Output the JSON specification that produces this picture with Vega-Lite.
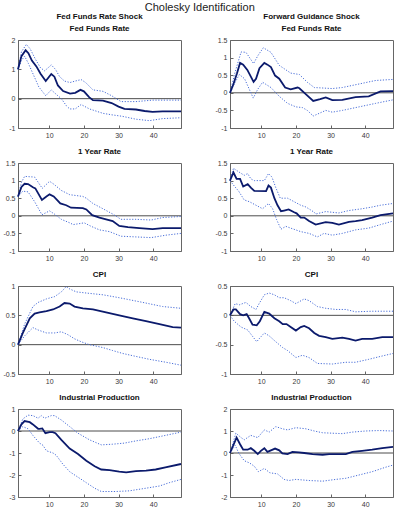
{
  "$schema": "https://vega.github.io/schema/vega-lite/v6.json",
  "background": "white",
  "padding": {"left": 2, "top": 1, "right": 6, "bottom": 2},
  "title": {"text": "Cholesky Identification", "anchor": "middle", "font": "Liberation Sans", "fontSize": 11, "fontWeight": "normal", "color": "#222222", "offset": 0},
  "columns": 2,
  "spacing": {"row": 8, "column": 28},
  "datasets": {
    "irf": [
      {"p":1,"s":"e","h":1,"v":1.0},{"p":1,"s":"e","h":2,"v":1.45},{"p":1,"s":"e","h":3.2,"v":1.65},{"p":1,"s":"e","h":4,"v":1.55},{"p":1,"s":"e","h":5,"v":1.3},{"p":1,"s":"e","h":6.3,"v":1.1},{"p":1,"s":"e","h":7.5,"v":0.85},{"p":1,"s":"e","h":9,"v":0.6},{"p":1,"s":"e","h":9.8,"v":0.72},{"p":1,"s":"e","h":10.6,"v":0.84},{"p":1,"s":"e","h":11.5,"v":0.75},{"p":1,"s":"e","h":12.5,"v":0.45},{"p":1,"s":"e","h":14,"v":0.26},{"p":1,"s":"e","h":16,"v":0.17},{"p":1,"s":"e","h":17.5,"v":0.2},{"p":1,"s":"e","h":19,"v":0.3},{"p":1,"s":"e","h":20,"v":0.25},{"p":1,"s":"e","h":21.5,"v":0.05},{"p":1,"s":"e","h":22.6,"v":-0.05},{"p":1,"s":"e","h":25.5,"v":-0.07},{"p":1,"s":"e","h":28,"v":-0.15},{"p":1,"s":"e","h":30,"v":-0.27},{"p":1,"s":"e","h":31.7,"v":-0.35},{"p":1,"s":"e","h":35,"v":-0.37},{"p":1,"s":"e","h":37.5,"v":-0.42},{"p":1,"s":"e","h":39.8,"v":-0.45},{"p":1,"s":"e","h":42.7,"v":-0.43},{"p":1,"s":"e","h":48,"v":-0.43},
      {"p":1,"s":"u","h":1,"v":1.0},{"p":1,"s":"u","h":2,"v":1.6},{"p":1,"s":"u","h":3.4,"v":1.85},{"p":1,"s":"u","h":4.5,"v":1.7},{"p":1,"s":"u","h":6,"v":1.35},{"p":1,"s":"u","h":7.5,"v":1.05},{"p":1,"s":"u","h":8.7,"v":0.95},{"p":1,"s":"u","h":10.6,"v":1.15},{"p":1,"s":"u","h":11.8,"v":1.0},{"p":1,"s":"u","h":13,"v":0.75},{"p":1,"s":"u","h":14.4,"v":0.6},{"p":1,"s":"u","h":16,"v":0.55},{"p":1,"s":"u","h":17.5,"v":0.6},{"p":1,"s":"u","h":19.2,"v":0.65},{"p":1,"s":"u","h":20.5,"v":0.55},{"p":1,"s":"u","h":22.6,"v":0.3},{"p":1,"s":"u","h":25.5,"v":0.25},{"p":1,"s":"u","h":28,"v":0.1},{"p":1,"s":"u","h":30.7,"v":-0.1},{"p":1,"s":"u","h":35,"v":-0.1},{"p":1,"s":"u","h":39.8,"v":-0.05},{"p":1,"s":"u","h":48,"v":-0.05},
      {"p":1,"s":"l","h":1,"v":1.0},{"p":1,"s":"l","h":2,"v":1.3},{"p":1,"s":"l","h":2.9,"v":1.45},{"p":1,"s":"l","h":4,"v":1.2},{"p":1,"s":"l","h":5.5,"v":0.8},{"p":1,"s":"l","h":7,"v":0.4},{"p":1,"s":"l","h":9,"v":0.1},{"p":1,"s":"l","h":10.6,"v":0.3},{"p":1,"s":"l","h":12,"v":0.15},{"p":1,"s":"l","h":13.5,"v":0.0},{"p":1,"s":"l","h":15,"v":-0.25},{"p":1,"s":"l","h":15.9,"v":-0.35},{"p":1,"s":"l","h":17.5,"v":-0.35},{"p":1,"s":"l","h":19.2,"v":-0.2},{"p":1,"s":"l","h":21.6,"v":-0.35},{"p":1,"s":"l","h":25.5,"v":-0.5},{"p":1,"s":"l","h":28,"v":-0.55},{"p":1,"s":"l","h":31,"v":-0.6},{"p":1,"s":"l","h":35,"v":-0.7},{"p":1,"s":"l","h":38.9,"v":-0.75},{"p":1,"s":"l","h":42.7,"v":-0.68},{"p":1,"s":"l","h":48,"v":-0.65},

      {"p":2,"s":"e","h":1,"v":0},{"p":2,"s":"e","h":2,"v":0.25},{"p":2,"s":"e","h":3,"v":0.55},{"p":2,"s":"e","h":3.9,"v":0.85},{"p":2,"s":"e","h":4.8,"v":0.8},{"p":2,"s":"e","h":6,"v":0.65},{"p":2,"s":"e","h":7.8,"v":0.31},{"p":2,"s":"e","h":8.5,"v":0.4},{"p":2,"s":"e","h":9.5,"v":0.7},{"p":2,"s":"e","h":10.9,"v":0.85},{"p":2,"s":"e","h":11.8,"v":0.8},{"p":2,"s":"e","h":12.8,"v":0.73},{"p":2,"s":"e","h":14,"v":0.49},{"p":2,"s":"e","h":15.2,"v":0.4},{"p":2,"s":"e","h":16.9,"v":0.15},{"p":2,"s":"e","h":18.5,"v":0.1},{"p":2,"s":"e","h":20.5,"v":0.15},{"p":2,"s":"e","h":21,"v":0.13},{"p":2,"s":"e","h":23,"v":-0.05},{"p":2,"s":"e","h":25,"v":-0.23},{"p":2,"s":"e","h":27,"v":-0.18},{"p":2,"s":"e","h":28.6,"v":-0.13},{"p":2,"s":"e","h":30.5,"v":-0.21},{"p":2,"s":"e","h":33.4,"v":-0.2},{"p":2,"s":"e","h":37.2,"v":-0.12},{"p":2,"s":"e","h":41,"v":-0.1},{"p":2,"s":"e","h":44.4,"v":0.04},{"p":2,"s":"e","h":48,"v":0.05},
      {"p":2,"s":"u","h":1,"v":0},{"p":2,"s":"u","h":2.5,"v":0.6},{"p":2,"s":"u","h":4.2,"v":1.16},{"p":2,"s":"u","h":5.6,"v":1.15},{"p":2,"s":"u","h":7.8,"v":0.83},{"p":2,"s":"u","h":9,"v":1.05},{"p":2,"s":"u","h":10.6,"v":1.28},{"p":2,"s":"u","h":12.8,"v":1.15},{"p":2,"s":"u","h":15.2,"v":0.78},{"p":2,"s":"u","h":18.5,"v":0.56},{"p":2,"s":"u","h":21,"v":0.52},{"p":2,"s":"u","h":23.3,"v":0.3},{"p":2,"s":"u","h":25.3,"v":0.15},{"p":2,"s":"u","h":30.5,"v":0.12},{"p":2,"s":"u","h":33.4,"v":0.15},{"p":2,"s":"u","h":38.2,"v":0.25},{"p":2,"s":"u","h":43,"v":0.35},{"p":2,"s":"u","h":48,"v":0.38},
      {"p":2,"s":"l","h":1,"v":0},{"p":2,"s":"l","h":2.5,"v":0.3},{"p":2,"s":"l","h":3.7,"v":0.52},{"p":2,"s":"l","h":5.2,"v":0.4},{"p":2,"s":"l","h":7.7,"v":-0.15},{"p":2,"s":"l","h":9,"v":0.1},{"p":2,"s":"l","h":10.4,"v":0.3},{"p":2,"s":"l","h":12.8,"v":0.15},{"p":2,"s":"l","h":15.2,"v":-0.1},{"p":2,"s":"l","h":17.6,"v":-0.3},{"p":2,"s":"l","h":20,"v":-0.4},{"p":2,"s":"l","h":21.9,"v":-0.42},{"p":2,"s":"l","h":23.3,"v":-0.5},{"p":2,"s":"l","h":25,"v":-0.66},{"p":2,"s":"l","h":28.6,"v":-0.5},{"p":2,"s":"l","h":30.5,"v":-0.55},{"p":2,"s":"l","h":33.4,"v":-0.5},{"p":2,"s":"l","h":38.2,"v":-0.4},{"p":2,"s":"l","h":43,"v":-0.3},{"p":2,"s":"l","h":48,"v":-0.2},

      {"p":3,"s":"e","h":1,"v":0.55},{"p":3,"s":"e","h":2,"v":0.82},{"p":3,"s":"e","h":2.9,"v":0.91},{"p":3,"s":"e","h":3.9,"v":0.9},{"p":3,"s":"e","h":5.3,"v":0.81},{"p":3,"s":"e","h":6,"v":0.78},{"p":3,"s":"e","h":7.9,"v":0.45},{"p":3,"s":"e","h":9.2,"v":0.55},{"p":3,"s":"e","h":10.1,"v":0.61},{"p":3,"s":"e","h":11.3,"v":0.55},{"p":3,"s":"e","h":13.2,"v":0.35},{"p":3,"s":"e","h":14.9,"v":0.3},{"p":3,"s":"e","h":16.3,"v":0.23},{"p":3,"s":"e","h":19.7,"v":0.22},{"p":3,"s":"e","h":20.7,"v":0.18},{"p":3,"s":"e","h":22.4,"v":0.02},{"p":3,"s":"e","h":24.5,"v":-0.05},{"p":3,"s":"e","h":26.4,"v":-0.1},{"p":3,"s":"e","h":28.3,"v":-0.15},{"p":3,"s":"e","h":30.2,"v":-0.29},{"p":3,"s":"e","h":32.7,"v":-0.32},{"p":3,"s":"e","h":36,"v":-0.35},{"p":3,"s":"e","h":39.8,"v":-0.38},{"p":3,"s":"e","h":42.7,"v":-0.35},{"p":3,"s":"e","h":48,"v":-0.35},
      {"p":3,"s":"u","h":1,"v":0.55},{"p":3,"s":"u","h":2,"v":0.95},{"p":3,"s":"u","h":2.9,"v":1.12},{"p":3,"s":"u","h":5.8,"v":1.1},{"p":3,"s":"u","h":8,"v":0.78},{"p":3,"s":"u","h":10.1,"v":0.98},{"p":3,"s":"u","h":11.3,"v":0.9},{"p":3,"s":"u","h":13.5,"v":0.72},{"p":3,"s":"u","h":15.9,"v":0.6},{"p":3,"s":"u","h":19.7,"v":0.55},{"p":3,"s":"u","h":20.7,"v":0.5},{"p":3,"s":"u","h":22.6,"v":0.35},{"p":3,"s":"u","h":25.5,"v":0.2},{"p":3,"s":"u","h":28.3,"v":0.05},{"p":3,"s":"u","h":30.7,"v":-0.1},{"p":3,"s":"u","h":35,"v":-0.1},{"p":3,"s":"u","h":39.4,"v":-0.12},{"p":3,"s":"u","h":42.7,"v":-0.05},{"p":3,"s":"u","h":48,"v":-0.02},
      {"p":3,"s":"l","h":1,"v":0.55},{"p":3,"s":"l","h":2.4,"v":0.7},{"p":3,"s":"l","h":3.9,"v":0.68},{"p":3,"s":"l","h":5.8,"v":0.4},{"p":3,"s":"l","h":7.9,"v":0.03},{"p":3,"s":"l","h":10.1,"v":0.14},{"p":3,"s":"l","h":11.5,"v":0.05},{"p":3,"s":"l","h":13.5,"v":-0.1},{"p":3,"s":"l","h":15.9,"v":-0.2},{"p":3,"s":"l","h":16.9,"v":-0.25},{"p":3,"s":"l","h":20.1,"v":-0.2},{"p":3,"s":"l","h":22.1,"v":-0.3},{"p":3,"s":"l","h":24.5,"v":-0.4},{"p":3,"s":"l","h":27.4,"v":-0.45},{"p":3,"s":"l","h":30.7,"v":-0.58},{"p":3,"s":"l","h":35,"v":-0.6},{"p":3,"s":"l","h":39.4,"v":-0.62},{"p":3,"s":"l","h":43.7,"v":-0.55},{"p":3,"s":"l","h":48,"v":-0.5},

      {"p":4,"s":"e","h":1,"v":1.0},{"p":4,"s":"e","h":2,"v":1.23},{"p":4,"s":"e","h":2.9,"v":1.05},{"p":4,"s":"e","h":3.9,"v":1.05},{"p":4,"s":"e","h":4.8,"v":0.83},{"p":4,"s":"e","h":6.1,"v":0.9},{"p":4,"s":"e","h":7,"v":0.8},{"p":4,"s":"e","h":8,"v":0.71},{"p":4,"s":"e","h":11.4,"v":0.7},{"p":4,"s":"e","h":12.1,"v":0.86},{"p":4,"s":"e","h":12.8,"v":0.8},{"p":4,"s":"e","h":13.8,"v":0.5},{"p":4,"s":"e","h":14.7,"v":0.3},{"p":4,"s":"e","h":15.7,"v":0.13},{"p":4,"s":"e","h":16.6,"v":0.15},{"p":4,"s":"e","h":17.9,"v":0.18},{"p":4,"s":"e","h":19.5,"v":0.1},{"p":4,"s":"e","h":20.2,"v":0.07},{"p":4,"s":"e","h":21.4,"v":-0.05},{"p":4,"s":"e","h":22.4,"v":-0.05},{"p":4,"s":"e","h":23.8,"v":-0.15},{"p":4,"s":"e","h":25.7,"v":-0.25},{"p":4,"s":"e","h":28.6,"v":-0.18},{"p":4,"s":"e","h":30.5,"v":-0.2},{"p":4,"s":"e","h":32.4,"v":-0.25},{"p":4,"s":"e","h":35.3,"v":-0.17},{"p":4,"s":"e","h":37.2,"v":-0.15},{"p":4,"s":"e","h":39.1,"v":-0.12},{"p":4,"s":"e","h":42,"v":-0.05},{"p":4,"s":"e","h":44.4,"v":0.02},{"p":4,"s":"e","h":48,"v":0.07},
      {"p":4,"s":"u","h":1,"v":1.0},{"p":4,"s":"u","h":2,"v":1.35},{"p":4,"s":"u","h":3.5,"v":1.25},{"p":4,"s":"u","h":5.1,"v":1.15},{"p":4,"s":"u","h":6.1,"v":1.2},{"p":4,"s":"u","h":7,"v":1.05},{"p":4,"s":"u","h":8,"v":1.0},{"p":4,"s":"u","h":10.9,"v":1.0},{"p":4,"s":"u","h":12.1,"v":1.2},{"p":4,"s":"u","h":13.1,"v":1.1},{"p":4,"s":"u","h":14.2,"v":0.8},{"p":4,"s":"u","h":15.5,"v":0.5},{"p":4,"s":"u","h":17.6,"v":0.5},{"p":4,"s":"u","h":19.5,"v":0.4},{"p":4,"s":"u","h":21.4,"v":0.3},{"p":4,"s":"u","h":22.9,"v":0.25},{"p":4,"s":"u","h":25.3,"v":0.1},{"p":4,"s":"u","h":25.7,"v":0.05},{"p":4,"s":"u","h":28.6,"v":0.12},{"p":4,"s":"u","h":32.4,"v":0.08},{"p":4,"s":"u","h":35.3,"v":0.15},{"p":4,"s":"u","h":39.1,"v":0.2},{"p":4,"s":"u","h":42,"v":0.25},{"p":4,"s":"u","h":44.4,"v":0.3},{"p":4,"s":"u","h":48,"v":0.35},
      {"p":4,"s":"l","h":1,"v":1.0},{"p":4,"s":"l","h":2.2,"v":0.85},{"p":4,"s":"l","h":3.5,"v":0.7},{"p":4,"s":"l","h":5.1,"v":0.45},{"p":4,"s":"l","h":6.6,"v":0.4},{"p":4,"s":"l","h":8.5,"v":0.3},{"p":4,"s":"l","h":10.4,"v":0.2},{"p":4,"s":"l","h":12.1,"v":0.35},{"p":4,"s":"l","h":13.3,"v":0.2},{"p":4,"s":"l","h":14.4,"v":-0.1},{"p":4,"s":"l","h":15.7,"v":-0.38},{"p":4,"s":"l","h":17.1,"v":-0.3},{"p":4,"s":"l","h":18.5,"v":-0.35},{"p":4,"s":"l","h":21.4,"v":-0.45},{"p":4,"s":"l","h":23.8,"v":-0.5},{"p":4,"s":"l","h":26.2,"v":-0.6},{"p":4,"s":"l","h":28.1,"v":-0.5},{"p":4,"s":"l","h":30.5,"v":-0.55},{"p":4,"s":"l","h":33.4,"v":-0.5},{"p":4,"s":"l","h":37.2,"v":-0.4},{"p":4,"s":"l","h":41,"v":-0.35},{"p":4,"s":"l","h":44.4,"v":-0.25},{"p":4,"s":"l","h":48,"v":-0.15},

      {"p":5,"s":"e","h":1,"v":0},{"p":5,"s":"e","h":2.4,"v":0.2},{"p":5,"s":"e","h":4.4,"v":0.45},{"p":5,"s":"e","h":5.8,"v":0.53},{"p":5,"s":"e","h":7.2,"v":0.55},{"p":5,"s":"e","h":9.2,"v":0.57},{"p":5,"s":"e","h":11.1,"v":0.6},{"p":5,"s":"e","h":13,"v":0.65},{"p":5,"s":"e","h":14.4,"v":0.71},{"p":5,"s":"e","h":15.9,"v":0.7},{"p":5,"s":"e","h":17.3,"v":0.65},{"p":5,"s":"e","h":19.7,"v":0.62},{"p":5,"s":"e","h":22.6,"v":0.6},{"p":5,"s":"e","h":26.4,"v":0.55},{"p":5,"s":"e","h":30.2,"v":0.5},{"p":5,"s":"e","h":34.1,"v":0.45},{"p":5,"s":"e","h":37.9,"v":0.4},{"p":5,"s":"e","h":41.8,"v":0.35},{"p":5,"s":"e","h":45.6,"v":0.3},{"p":5,"s":"e","h":48,"v":0.29},
      {"p":5,"s":"u","h":1,"v":0},{"p":5,"s":"u","h":2.9,"v":0.35},{"p":5,"s":"u","h":5.3,"v":0.65},{"p":5,"s":"u","h":6.8,"v":0.72},{"p":5,"s":"u","h":9.2,"v":0.78},{"p":5,"s":"u","h":11.6,"v":0.82},{"p":5,"s":"u","h":13.5,"v":0.9},{"p":5,"s":"u","h":14.9,"v":0.99},{"p":5,"s":"u","h":15.9,"v":0.95},{"p":5,"s":"u","h":17.8,"v":0.9},{"p":5,"s":"u","h":20.7,"v":0.88},{"p":5,"s":"u","h":25.5,"v":0.85},{"p":5,"s":"u","h":30.2,"v":0.8},{"p":5,"s":"u","h":37,"v":0.72},{"p":5,"s":"u","h":42.7,"v":0.65},{"p":5,"s":"u","h":48,"v":0.62},
      {"p":5,"s":"l","h":1,"v":0},{"p":5,"s":"l","h":2.9,"v":0.15},{"p":5,"s":"l","h":5.3,"v":0.29},{"p":5,"s":"l","h":6.8,"v":0.25},{"p":5,"s":"l","h":9.2,"v":0.2},{"p":5,"s":"l","h":11.6,"v":0.2},{"p":5,"s":"l","h":13.5,"v":0.22},{"p":5,"s":"l","h":15.4,"v":0.17},{"p":5,"s":"l","h":17.3,"v":0.1},{"p":5,"s":"l","h":19.2,"v":0.05},{"p":5,"s":"l","h":21.6,"v":0.0},{"p":5,"s":"l","h":25.5,"v":-0.05},{"p":5,"s":"l","h":28.3,"v":-0.1},{"p":5,"s":"l","h":31.2,"v":-0.15},{"p":5,"s":"l","h":35,"v":-0.2},{"p":5,"s":"l","h":38.9,"v":-0.25},{"p":5,"s":"l","h":43.7,"v":-0.3},{"p":5,"s":"l","h":48,"v":-0.35},

      {"p":6,"s":"e","h":1,"v":0},{"p":6,"s":"e","h":2,"v":0.1},{"p":6,"s":"e","h":2.7,"v":0.1},{"p":6,"s":"e","h":3.9,"v":0.02},{"p":6,"s":"e","h":4.8,"v":0.0},{"p":6,"s":"e","h":5.8,"v":0.02},{"p":6,"s":"e","h":6.5,"v":-0.05},{"p":6,"s":"e","h":7.5,"v":-0.16},{"p":6,"s":"e","h":8.7,"v":-0.17},{"p":6,"s":"e","h":9.6,"v":-0.1},{"p":6,"s":"e","h":10.9,"v":0.06},{"p":6,"s":"e","h":12.3,"v":0.03},{"p":6,"s":"e","h":13.8,"v":-0.05},{"p":6,"s":"e","h":15.2,"v":-0.1},{"p":6,"s":"e","h":16.2,"v":-0.15},{"p":6,"s":"e","h":17.3,"v":-0.15},{"p":6,"s":"e","h":18.5,"v":-0.2},{"p":6,"s":"e","h":20,"v":-0.26},{"p":6,"s":"e","h":21.4,"v":-0.2},{"p":6,"s":"e","h":22.4,"v":-0.18},{"p":6,"s":"e","h":23.8,"v":-0.22},{"p":6,"s":"e","h":25.3,"v":-0.3},{"p":6,"s":"e","h":26.7,"v":-0.35},{"p":6,"s":"e","h":28.6,"v":-0.37},{"p":6,"s":"e","h":30.5,"v":-0.4},{"p":6,"s":"e","h":33.4,"v":-0.38},{"p":6,"s":"e","h":35.3,"v":-0.4},{"p":6,"s":"e","h":37.2,"v":-0.43},{"p":6,"s":"e","h":39.1,"v":-0.4},{"p":6,"s":"e","h":42,"v":-0.4},{"p":6,"s":"e","h":44.9,"v":-0.37},{"p":6,"s":"e","h":48,"v":-0.37},
      {"p":6,"s":"u","h":1,"v":0},{"p":6,"s":"u","h":2.5,"v":0.2},{"p":6,"s":"u","h":3.7,"v":0.18},{"p":6,"s":"u","h":5.6,"v":0.22},{"p":6,"s":"u","h":7,"v":0.15},{"p":6,"s":"u","h":8.5,"v":0.1},{"p":6,"s":"u","h":9.4,"v":0.2},{"p":6,"s":"u","h":10.9,"v":0.35},{"p":6,"s":"u","h":12.3,"v":0.38},{"p":6,"s":"u","h":13.8,"v":0.35},{"p":6,"s":"u","h":15.2,"v":0.3},{"p":6,"s":"u","h":16.6,"v":0.3},{"p":6,"s":"u","h":18.5,"v":0.25},{"p":6,"s":"u","h":20,"v":0.2},{"p":6,"s":"u","h":22.4,"v":0.28},{"p":6,"s":"u","h":23.8,"v":0.25},{"p":6,"s":"u","h":26.2,"v":0.15},{"p":6,"s":"u","h":28.6,"v":0.12},{"p":6,"s":"u","h":31.5,"v":0.1},{"p":6,"s":"u","h":34.4,"v":0.1},{"p":6,"s":"u","h":37.2,"v":0.06},{"p":6,"s":"u","h":42,"v":0.07},{"p":6,"s":"u","h":48,"v":0.07},
      {"p":6,"s":"l","h":1,"v":0},{"p":6,"s":"l","h":2.2,"v":-0.1},{"p":6,"s":"l","h":4.2,"v":-0.2},{"p":6,"s":"l","h":6.1,"v":-0.25},{"p":6,"s":"l","h":8.7,"v":-0.45},{"p":6,"s":"l","h":9.4,"v":-0.4},{"p":6,"s":"l","h":10.9,"v":-0.3},{"p":6,"s":"l","h":12.3,"v":-0.35},{"p":6,"s":"l","h":14.2,"v":-0.45},{"p":6,"s":"l","h":16.2,"v":-0.55},{"p":6,"s":"l","h":17.6,"v":-0.6},{"p":6,"s":"l","h":20,"v":-0.72},{"p":6,"s":"l","h":21.9,"v":-0.68},{"p":6,"s":"l","h":23.8,"v":-0.72},{"p":6,"s":"l","h":26.2,"v":-0.82},{"p":6,"s":"l","h":30.5,"v":-0.83},{"p":6,"s":"l","h":34.4,"v":-0.8},{"p":6,"s":"l","h":37.2,"v":-0.8},{"p":6,"s":"l","h":41,"v":-0.75},{"p":6,"s":"l","h":44.4,"v":-0.7},{"p":6,"s":"l","h":48,"v":-0.65},

      {"p":7,"s":"e","h":1,"v":0},{"p":7,"s":"e","h":2,"v":0.3},{"p":7,"s":"e","h":2.9,"v":0.45},{"p":7,"s":"e","h":4.4,"v":0.4},{"p":7,"s":"e","h":5.3,"v":0.3},{"p":7,"s":"e","h":6.8,"v":0.1},{"p":7,"s":"e","h":7.2,"v":0.1},{"p":7,"s":"e","h":8,"v":0.12},{"p":7,"s":"e","h":8.9,"v":-0.1},{"p":7,"s":"e","h":10.1,"v":-0.05},{"p":7,"s":"e","h":11,"v":-0.05},{"p":7,"s":"e","h":11.8,"v":-0.1},{"p":7,"s":"e","h":13.5,"v":-0.4},{"p":7,"s":"e","h":15.9,"v":-0.8},{"p":7,"s":"e","h":18.3,"v":-1.05},{"p":7,"s":"e","h":20.7,"v":-1.35},{"p":7,"s":"e","h":23.1,"v":-1.6},{"p":7,"s":"e","h":25,"v":-1.75},{"p":7,"s":"e","h":27.4,"v":-1.78},{"p":7,"s":"e","h":30.2,"v":-1.85},{"p":7,"s":"e","h":32.2,"v":-1.88},{"p":7,"s":"e","h":35,"v":-1.82},{"p":7,"s":"e","h":37.9,"v":-1.8},{"p":7,"s":"e","h":40.7,"v":-1.75},{"p":7,"s":"e","h":43.5,"v":-1.65},{"p":7,"s":"e","h":48,"v":-1.5},
      {"p":7,"s":"u","h":1,"v":0},{"p":7,"s":"u","h":2.4,"v":0.55},{"p":7,"s":"u","h":3.9,"v":0.72},{"p":7,"s":"u","h":5.3,"v":0.7},{"p":7,"s":"u","h":6.8,"v":0.58},{"p":7,"s":"u","h":7.7,"v":0.7},{"p":7,"s":"u","h":8.7,"v":0.58},{"p":7,"s":"u","h":10.6,"v":0.7},{"p":7,"s":"u","h":11.5,"v":0.7},{"p":7,"s":"u","h":13.5,"v":0.5},{"p":7,"s":"u","h":15.9,"v":0.2},{"p":7,"s":"u","h":18.3,"v":-0.1},{"p":7,"s":"u","h":21.6,"v":-0.4},{"p":7,"s":"u","h":25,"v":-0.63},{"p":7,"s":"u","h":28.3,"v":-0.6},{"p":7,"s":"u","h":31.7,"v":-0.55},{"p":7,"s":"u","h":35,"v":-0.45},{"p":7,"s":"u","h":38.9,"v":-0.35},{"p":7,"s":"u","h":43.5,"v":-0.2},{"p":7,"s":"u","h":48,"v":-0.05},
      {"p":7,"s":"l","h":1,"v":0},{"p":7,"s":"l","h":2.4,"v":0.2},{"p":7,"s":"l","h":3.9,"v":0.1},{"p":7,"s":"l","h":5.3,"v":-0.2},{"p":7,"s":"l","h":7.2,"v":-0.55},{"p":7,"s":"l","h":8.2,"v":-0.65},{"p":7,"s":"l","h":9.2,"v":-0.9},{"p":7,"s":"l","h":11.1,"v":-1.0},{"p":7,"s":"l","h":12,"v":-1.1},{"p":7,"s":"l","h":13.9,"v":-1.5},{"p":7,"s":"l","h":15.9,"v":-1.85},{"p":7,"s":"l","h":18.3,"v":-2.1},{"p":7,"s":"l","h":20.7,"v":-2.35},{"p":7,"s":"l","h":23.1,"v":-2.6},{"p":7,"s":"l","h":25,"v":-2.75},{"p":7,"s":"l","h":29.3,"v":-2.75},{"p":7,"s":"l","h":33.1,"v":-2.72},{"p":7,"s":"l","h":37.9,"v":-2.6},{"p":7,"s":"l","h":41.8,"v":-2.5},{"p":7,"s":"l","h":44.6,"v":-2.35},{"p":7,"s":"l","h":48,"v":-2.2},

      {"p":8,"s":"e","h":1,"v":0},{"p":8,"s":"e","h":2.9,"v":0.7},{"p":8,"s":"e","h":3.9,"v":0.4},{"p":8,"s":"e","h":4.8,"v":0.15},{"p":8,"s":"e","h":6.1,"v":0.15},{"p":8,"s":"e","h":7,"v":0.22},{"p":8,"s":"e","h":8,"v":0.1},{"p":8,"s":"e","h":9,"v":-0.05},{"p":8,"s":"e","h":9.9,"v":0.1},{"p":8,"s":"e","h":10.9,"v":0.22},{"p":8,"s":"e","h":11.8,"v":0.05},{"p":8,"s":"e","h":12.8,"v":0.12},{"p":8,"s":"e","h":14,"v":0.2},{"p":8,"s":"e","h":15.2,"v":0.12},{"p":8,"s":"e","h":16.1,"v":-0.02},{"p":8,"s":"e","h":17.6,"v":-0.05},{"p":8,"s":"e","h":19,"v":0.05},{"p":8,"s":"e","h":20.9,"v":0.03},{"p":8,"s":"e","h":22.4,"v":0},{"p":8,"s":"e","h":24.8,"v":-0.05},{"p":8,"s":"e","h":27.7,"v":-0.08},{"p":8,"s":"e","h":29.6,"v":-0.05},{"p":8,"s":"e","h":32.5,"v":-0.05},{"p":8,"s":"e","h":34.4,"v":-0.05},{"p":8,"s":"e","h":36.3,"v":0.05},{"p":8,"s":"e","h":39.1,"v":0.1},{"p":8,"s":"e","h":42,"v":0.15},{"p":8,"s":"e","h":44.9,"v":0.22},{"p":8,"s":"e","h":48,"v":0.28},
      {"p":8,"s":"u","h":1,"v":0},{"p":8,"s":"u","h":2.7,"v":0.9},{"p":8,"s":"u","h":4.2,"v":0.7},{"p":8,"s":"u","h":5.1,"v":0.6},{"p":8,"s":"u","h":7,"v":0.8},{"p":8,"s":"u","h":9,"v":0.7},{"p":8,"s":"u","h":10.9,"v":1.05},{"p":8,"s":"u","h":12.3,"v":0.95},{"p":8,"s":"u","h":14.2,"v":1.2},{"p":8,"s":"u","h":16.1,"v":1.1},{"p":8,"s":"u","h":17.6,"v":1.05},{"p":8,"s":"u","h":20,"v":1.15},{"p":8,"s":"u","h":22.9,"v":1.1},{"p":8,"s":"u","h":25.3,"v":1.0},{"p":8,"s":"u","h":27.7,"v":0.92},{"p":8,"s":"u","h":30.5,"v":0.9},{"p":8,"s":"u","h":33.4,"v":0.88},{"p":8,"s":"u","h":36.3,"v":0.95},{"p":8,"s":"u","h":40.1,"v":1.0},{"p":8,"s":"u","h":43.9,"v":1.02},{"p":8,"s":"u","h":48,"v":1.0},
      {"p":8,"s":"l","h":1,"v":0},{"p":8,"s":"l","h":2.5,"v":0.35},{"p":8,"s":"l","h":3.5,"v":0.0},{"p":8,"s":"l","h":5.1,"v":-0.35},{"p":8,"s":"l","h":6.6,"v":-0.45},{"p":8,"s":"l","h":8,"v":-0.6},{"p":8,"s":"l","h":9.2,"v":-0.85},{"p":8,"s":"l","h":10.9,"v":-0.7},{"p":8,"s":"l","h":12.5,"v":-0.9},{"p":8,"s":"l","h":14.7,"v":-0.95},{"p":8,"s":"l","h":16.6,"v":-1.2},{"p":8,"s":"l","h":18,"v":-1.25},{"p":8,"s":"l","h":20,"v":-1.2},{"p":8,"s":"l","h":23.8,"v":-1.25},{"p":8,"s":"l","h":27.7,"v":-1.28},{"p":8,"s":"l","h":31.5,"v":-1.2},{"p":8,"s":"l","h":34.4,"v":-1.15},{"p":8,"s":"l","h":38.2,"v":-1.0},{"p":8,"s":"l","h":42,"v":-0.85},{"p":8,"s":"l","h":45.8,"v":-0.65},{"p":8,"s":"l","h":48,"v":-0.55}
    ]
  },
  "data": {"name": "irf"},
  "concat": [
    {
      "title": {"text": ["Fed Funds Rate Shock", "Fed Funds Rate"], "lineHeight": 12},
      "width": 163, "height": 88,
      "layer": [
        {"data": {"values": [{"v": 0}]}, "mark": {"type": "rule", "color": "#4d4d4d", "strokeWidth": 1}, "encoding": {"y": {"field": "v", "type": "quantitative", "scale": {"domain": [-1, 2], "nice": false, "zero": false}, "axis": {"values": [-1, 0, 1, 2], "title": null}}}},
        {"transform": [{"filter": "datum.p == 1 && datum.s != 'e'"}], "mark": {"type": "line", "color": "#4a6fd9", "strokeWidth": 1, "strokeDash": [1.2, 1.6]},
         "encoding": {"x": {"field": "h", "type": "quantitative", "scale": {"domain": [1, 48], "nice": false, "zero": false}, "axis": {"values": [10, 20, 30, 40], "title": null}}, "y": {"field": "v", "type": "quantitative", "axis": {"values": [-1, 0, 1, 2], "title": null}}, "detail": {"field": "s"}}},
        {"transform": [{"filter": "datum.p == 1 && datum.s == 'e'"}], "mark": {"type": "line", "color": "#0b1a6c", "strokeWidth": 1.8},
         "encoding": {"x": {"field": "h", "type": "quantitative", "axis": {"values": [10, 20, 30, 40], "title": null}}, "y": {"field": "v", "type": "quantitative", "axis": {"values": [-1, 0, 1, 2], "title": null}}}}
      ]
    },
    {
      "title": {"text": ["Forward Guidance Shock", "Fed Funds Rate"], "lineHeight": 12},
      "width": 163, "height": 88,
      "layer": [
        {"data": {"values": [{"v": 0}]}, "mark": {"type": "rule", "color": "#4d4d4d", "strokeWidth": 1}, "encoding": {"y": {"field": "v", "type": "quantitative", "scale": {"domain": [-1, 1.5], "nice": false, "zero": false}, "axis": {"values": [-1, -0.5, 0, 0.5, 1, 1.5], "title": null}}}},
        {"transform": [{"filter": "datum.p == 2 && datum.s != 'e'"}], "mark": {"type": "line", "color": "#4a6fd9", "strokeWidth": 1, "strokeDash": [1.2, 1.6]},
         "encoding": {"x": {"field": "h", "type": "quantitative", "scale": {"domain": [1, 48], "nice": false, "zero": false}, "axis": {"values": [10, 20, 30, 40], "title": null}}, "y": {"field": "v", "type": "quantitative", "axis": {"values": [-1, -0.5, 0, 0.5, 1, 1.5], "title": null}}, "detail": {"field": "s"}}},
        {"transform": [{"filter": "datum.p == 2 && datum.s == 'e'"}], "mark": {"type": "line", "color": "#0b1a6c", "strokeWidth": 1.8},
         "encoding": {"x": {"field": "h", "type": "quantitative", "axis": {"values": [10, 20, 30, 40], "title": null}}, "y": {"field": "v", "type": "quantitative", "axis": {"values": [-1, -0.5, 0, 0.5, 1, 1.5], "title": null}}}}
      ]
    },
    {
      "title": "1 Year Rate",
      "width": 163, "height": 88,
      "layer": [
        {"data": {"values": [{"v": 0}]}, "mark": {"type": "rule", "color": "#4d4d4d", "strokeWidth": 1}, "encoding": {"y": {"field": "v", "type": "quantitative", "scale": {"domain": [-1, 1.5], "nice": false, "zero": false}, "axis": {"values": [-1, -0.5, 0, 0.5, 1, 1.5], "title": null}}}},
        {"transform": [{"filter": "datum.p == 3 && datum.s != 'e'"}], "mark": {"type": "line", "color": "#4a6fd9", "strokeWidth": 1, "strokeDash": [1.2, 1.6]},
         "encoding": {"x": {"field": "h", "type": "quantitative", "scale": {"domain": [1, 48], "nice": false, "zero": false}, "axis": {"values": [10, 20, 30, 40], "title": null}}, "y": {"field": "v", "type": "quantitative", "axis": {"values": [-1, -0.5, 0, 0.5, 1, 1.5], "title": null}}, "detail": {"field": "s"}}},
        {"transform": [{"filter": "datum.p == 3 && datum.s == 'e'"}], "mark": {"type": "line", "color": "#0b1a6c", "strokeWidth": 1.8},
         "encoding": {"x": {"field": "h", "type": "quantitative", "axis": {"values": [10, 20, 30, 40], "title": null}}, "y": {"field": "v", "type": "quantitative", "axis": {"values": [-1, -0.5, 0, 0.5, 1, 1.5], "title": null}}}}
      ]
    },
    {
      "title": "1 Year Rate",
      "width": 163, "height": 88,
      "layer": [
        {"data": {"values": [{"v": 0}]}, "mark": {"type": "rule", "color": "#4d4d4d", "strokeWidth": 1}, "encoding": {"y": {"field": "v", "type": "quantitative", "scale": {"domain": [-1, 1.5], "nice": false, "zero": false}, "axis": {"values": [-1, -0.5, 0, 0.5, 1, 1.5], "title": null}}}},
        {"transform": [{"filter": "datum.p == 4 && datum.s != 'e'"}], "mark": {"type": "line", "color": "#4a6fd9", "strokeWidth": 1, "strokeDash": [1.2, 1.6]},
         "encoding": {"x": {"field": "h", "type": "quantitative", "scale": {"domain": [1, 48], "nice": false, "zero": false}, "axis": {"values": [10, 20, 30, 40], "title": null}}, "y": {"field": "v", "type": "quantitative", "axis": {"values": [-1, -0.5, 0, 0.5, 1, 1.5], "title": null}}, "detail": {"field": "s"}}},
        {"transform": [{"filter": "datum.p == 4 && datum.s == 'e'"}], "mark": {"type": "line", "color": "#0b1a6c", "strokeWidth": 1.8},
         "encoding": {"x": {"field": "h", "type": "quantitative", "axis": {"values": [10, 20, 30, 40], "title": null}}, "y": {"field": "v", "type": "quantitative", "axis": {"values": [-1, -0.5, 0, 0.5, 1, 1.5], "title": null}}}}
      ]
    },
    {
      "title": "CPI",
      "width": 163, "height": 88,
      "layer": [
        {"data": {"values": [{"v": 0}]}, "mark": {"type": "rule", "color": "#4d4d4d", "strokeWidth": 1}, "encoding": {"y": {"field": "v", "type": "quantitative", "scale": {"domain": [-0.5, 1], "nice": false, "zero": false}, "axis": {"values": [-0.5, 0, 0.5, 1], "title": null}}}},
        {"transform": [{"filter": "datum.p == 5 && datum.s != 'e'"}], "mark": {"type": "line", "color": "#4a6fd9", "strokeWidth": 1, "strokeDash": [1.2, 1.6]},
         "encoding": {"x": {"field": "h", "type": "quantitative", "scale": {"domain": [1, 48], "nice": false, "zero": false}, "axis": {"values": [10, 20, 30, 40], "title": null}}, "y": {"field": "v", "type": "quantitative", "axis": {"values": [-0.5, 0, 0.5, 1], "title": null}}, "detail": {"field": "s"}}},
        {"transform": [{"filter": "datum.p == 5 && datum.s == 'e'"}], "mark": {"type": "line", "color": "#0b1a6c", "strokeWidth": 1.8},
         "encoding": {"x": {"field": "h", "type": "quantitative", "axis": {"values": [10, 20, 30, 40], "title": null}}, "y": {"field": "v", "type": "quantitative", "axis": {"values": [-0.5, 0, 0.5, 1], "title": null}}}}
      ]
    },
    {
      "title": "CPI",
      "width": 163, "height": 88,
      "layer": [
        {"data": {"values": [{"v": 0}]}, "mark": {"type": "rule", "color": "#4d4d4d", "strokeWidth": 1}, "encoding": {"y": {"field": "v", "type": "quantitative", "scale": {"domain": [-1, 0.5], "nice": false, "zero": false}, "axis": {"values": [-1, -0.5, 0, 0.5], "title": null}}}},
        {"transform": [{"filter": "datum.p == 6 && datum.s != 'e'"}], "mark": {"type": "line", "color": "#4a6fd9", "strokeWidth": 1, "strokeDash": [1.2, 1.6]},
         "encoding": {"x": {"field": "h", "type": "quantitative", "scale": {"domain": [1, 48], "nice": false, "zero": false}, "axis": {"values": [10, 20, 30, 40], "title": null}}, "y": {"field": "v", "type": "quantitative", "axis": {"values": [-1, -0.5, 0, 0.5], "title": null}}, "detail": {"field": "s"}}},
        {"transform": [{"filter": "datum.p == 6 && datum.s == 'e'"}], "mark": {"type": "line", "color": "#0b1a6c", "strokeWidth": 1.8},
         "encoding": {"x": {"field": "h", "type": "quantitative", "axis": {"values": [10, 20, 30, 40], "title": null}}, "y": {"field": "v", "type": "quantitative", "axis": {"values": [-1, -0.5, 0, 0.5], "title": null}}}}
      ]
    },
    {
      "title": "Industrial Production",
      "width": 163, "height": 88,
      "layer": [
        {"data": {"values": [{"v": 0}]}, "mark": {"type": "rule", "color": "#4d4d4d", "strokeWidth": 1}, "encoding": {"y": {"field": "v", "type": "quantitative", "scale": {"domain": [-3, 1], "nice": false, "zero": false}, "axis": {"values": [-3, -2, -1, 0, 1], "title": null}}}},
        {"transform": [{"filter": "datum.p == 7 && datum.s != 'e'"}], "mark": {"type": "line", "color": "#4a6fd9", "strokeWidth": 1, "strokeDash": [1.2, 1.6]},
         "encoding": {"x": {"field": "h", "type": "quantitative", "scale": {"domain": [1, 48], "nice": false, "zero": false}, "axis": {"values": [10, 20, 30, 40], "title": null}}, "y": {"field": "v", "type": "quantitative", "axis": {"values": [-3, -2, -1, 0, 1], "title": null}}, "detail": {"field": "s"}}},
        {"transform": [{"filter": "datum.p == 7 && datum.s == 'e'"}], "mark": {"type": "line", "color": "#0b1a6c", "strokeWidth": 1.8},
         "encoding": {"x": {"field": "h", "type": "quantitative", "axis": {"values": [10, 20, 30, 40], "title": null}}, "y": {"field": "v", "type": "quantitative", "axis": {"values": [-3, -2, -1, 0, 1], "title": null}}}}
      ]
    },
    {
      "title": "Industrial Production",
      "width": 163, "height": 88,
      "layer": [
        {"data": {"values": [{"v": 0}]}, "mark": {"type": "rule", "color": "#4d4d4d", "strokeWidth": 1}, "encoding": {"y": {"field": "v", "type": "quantitative", "scale": {"domain": [-2, 2], "nice": false, "zero": false}, "axis": {"values": [-2, -1, 0, 1, 2], "title": null}}}},
        {"transform": [{"filter": "datum.p == 8 && datum.s != 'e'"}], "mark": {"type": "line", "color": "#4a6fd9", "strokeWidth": 1, "strokeDash": [1.2, 1.6]},
         "encoding": {"x": {"field": "h", "type": "quantitative", "scale": {"domain": [1, 48], "nice": false, "zero": false}, "axis": {"values": [10, 20, 30, 40], "title": null}}, "y": {"field": "v", "type": "quantitative", "axis": {"values": [-2, -1, 0, 1, 2], "title": null}}, "detail": {"field": "s"}}},
        {"transform": [{"filter": "datum.p == 8 && datum.s == 'e'"}], "mark": {"type": "line", "color": "#0b1a6c", "strokeWidth": 1.8},
         "encoding": {"x": {"field": "h", "type": "quantitative", "axis": {"values": [10, 20, 30, 40], "title": null}}, "y": {"field": "v", "type": "quantitative", "axis": {"values": [-2, -1, 0, 1, 2], "title": null}}}}
      ]
    }
  ],
  "config": {
    "view": {"stroke": "#666666", "strokeWidth": 1},
    "axis": {
      "grid": false,
      "domainColor": "#666666",
      "tickColor": "#666666",
      "ticks": true,
      "tickSize": -3,
      "labelPadding": 6,
      "labelFont": "Liberation Sans",
      "labelFontSize": 7,
      "labelColor": "#3a3a3a",
      "labelExpr": "'' + datum.value"
    },
    "title": {"font": "Liberation Sans", "fontSize": 8, "fontWeight": "bold", "color": "#111111", "offset": 3}
  }
}
